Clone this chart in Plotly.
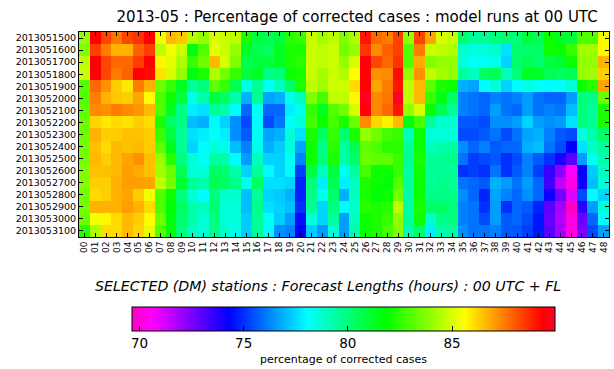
import plotly.graph_objects as go

title_text = "2013-05 : Percentage of corrected cases : model runs at 00 UTC"
xlabel_text = "SELECTED (DM) stations : Forecast Lengths (hours) : 00 UTC + FL"
cbar_label = "percentage of corrected cases"

forecast_lengths = [f"{h:02d}" for h in range(49)]
run_dates = [f"201305{d:02d}00" for d in range(15, 32)]
cbar_ticks = [70, 75, 80, 85]

pct = [
    [84.0, 89.3, 88.3, 87.6, 88.3, 88.6, 89.3, 85.4, 86.6, 86.4, 84.5, 84.0,
     85.0, 84.8, 84.6, 82.2, 80.9, 80.6, 80.9, 82.4, 82.6, 84.8, 84.2, 84.6,
     83.7, 84.4, 89.0, 87.8, 87.5, 88.4, 84.0, 88.3, 86.9, 85.0, 84.8, 80.2,
     79.5, 79.6, 80.0, 80.2, 80.0, 80.9, 80.6, 82.0, 81.3, 80.9, 83.0, 83.0, 85.4],
    [83.7, 88.4, 87.5, 86.7, 86.7, 87.9, 88.4, 84.6, 85.4, 84.8, 81.6, 83.0,
     85.2, 84.8, 84.0, 81.3, 80.6, 80.4, 81.3, 82.2, 82.2, 84.8, 84.6, 84.8,
     83.5, 84.0, 88.6, 87.3, 87.9, 88.4, 83.0, 87.5, 84.8, 84.6, 84.4, 78.8,
     78.6, 78.6, 78.8, 77.6, 80.2, 80.2, 80.4, 82.0, 82.0, 82.6, 84.2, 84.2, 85.7],
    [84.6, 89.4, 88.3, 87.8, 87.8, 88.4, 89.3, 85.7, 85.2, 84.4, 82.6, 83.4,
     86.6, 85.0, 83.7, 80.6, 80.9, 80.9, 81.3, 82.2, 82.4, 84.8, 84.6, 84.8,
     84.0, 85.0, 89.5, 88.3, 87.8, 88.6, 83.0, 86.8, 83.7, 84.0, 84.0, 78.6,
     78.2, 78.2, 78.4, 77.4, 80.2, 80.6, 80.2, 80.9, 81.1, 82.0, 84.0, 84.0, 86.7],
    [84.8, 89.5, 88.3, 87.5, 87.9, 89.4, 89.2, 86.0, 85.0, 84.0, 81.6, 82.2,
     84.4, 83.5, 82.6, 80.9, 81.3, 79.8, 80.0, 82.0, 82.2, 84.8, 84.2, 84.8,
     84.4, 85.6, 89.4, 87.2, 87.3, 89.2, 84.0, 87.2, 84.6, 84.2, 84.0, 79.6,
     79.0, 80.4, 80.6, 79.0, 80.0, 81.3, 81.3, 80.6, 80.4, 80.6, 84.0, 84.2, 86.3],
    [83.0, 87.8, 87.2, 86.3, 85.9, 87.5, 86.7, 83.4, 82.6, 81.3, 79.6, 80.0,
     83.2, 82.6, 80.6, 78.4, 79.6, 78.2, 79.0, 80.4, 82.2, 84.6, 84.2, 84.8,
     84.8, 86.1, 89.3, 86.9, 87.5, 89.0, 84.6, 86.6, 83.2, 82.2, 82.0, 76.9,
     76.7, 78.0, 78.6, 77.4, 78.0, 78.4, 78.2, 78.0, 78.2, 78.6, 82.0, 82.4, 86.9],
    [83.0, 87.5, 86.7, 86.4, 86.3, 86.9, 85.6, 83.0, 82.0, 80.9, 78.4, 79.3,
     80.9, 80.4, 79.3, 76.9, 79.6, 76.7, 76.9, 78.4, 79.0, 83.7, 82.8, 84.6,
     84.6, 85.7, 89.8, 87.3, 87.6, 89.9, 84.6, 86.6, 82.6, 81.5, 80.4, 76.2,
     76.0, 75.8, 76.2, 76.0, 76.2, 76.6, 76.0, 75.8, 75.8, 76.6, 80.0, 79.8, 83.4],
    [83.2, 87.3, 87.2, 87.5, 87.3, 87.1, 86.6, 83.0, 81.3, 79.8, 77.8, 77.6,
     79.6, 79.3, 78.0, 75.8, 78.2, 75.8, 75.8, 77.8, 78.4, 82.6, 81.3, 83.0,
     83.5, 85.0, 89.5, 87.3, 87.8, 89.0, 84.0, 85.0, 82.0, 80.6, 79.6, 76.2,
     76.0, 75.8, 76.6, 76.0, 75.8, 76.6, 76.0, 76.2, 76.0, 77.1, 80.0, 79.6, 82.2],
    [83.4, 86.2, 85.9, 86.1, 86.0, 86.3, 86.1, 82.2, 80.4, 79.8, 77.1, 76.9,
     78.0, 77.4, 76.4, 75.4, 78.0, 75.4, 76.0, 78.2, 78.6, 82.8, 82.0, 82.8,
     82.2, 83.4, 87.3, 86.2, 85.8, 86.6, 81.6, 82.8, 79.6, 78.8, 78.8, 75.6,
     75.6, 75.4, 76.4, 76.4, 76.6, 77.4, 76.6, 76.4, 76.6, 77.6, 80.0, 79.6, 82.2],
    [83.4, 86.7, 86.3, 86.3, 86.5, 86.5, 86.3, 82.6, 80.9, 79.6, 77.6, 77.8,
     78.2, 77.8, 76.4, 75.6, 78.2, 76.7, 76.9, 78.6, 77.6, 82.2, 80.4, 82.6,
     80.2, 82.2, 84.0, 83.4, 82.8, 82.6, 79.0, 82.0, 78.6, 78.6, 78.6, 75.4,
     75.4, 75.6, 76.0, 75.4, 76.0, 76.7, 76.9, 76.2, 75.6, 75.4, 78.6, 79.3, 80.4],
    [83.5, 86.5, 86.1, 86.6, 86.5, 86.6, 86.3, 83.2, 81.5, 79.6, 77.4, 78.0,
     78.6, 78.4, 77.1, 76.2, 78.4, 76.9, 77.3, 78.6, 76.7, 82.0, 79.8, 82.4,
     79.5, 80.6, 83.2, 83.0, 82.4, 82.4, 79.5, 82.0, 79.0, 79.3, 79.5, 76.4,
     75.8, 76.2, 75.6, 75.8, 75.8, 76.9, 77.1, 76.0, 75.4, 74.3, 77.6, 79.0, 79.5],
    [83.5, 86.6, 86.3, 86.6, 86.9, 87.2, 86.5, 84.0, 82.4, 80.0, 78.6, 78.2,
     79.5, 79.3, 78.0, 76.6, 79.0, 77.4, 77.4, 78.2, 76.2, 82.0, 80.0, 82.2,
     79.3, 80.2, 83.4, 83.2, 83.2, 82.6, 79.6, 82.2, 79.6, 79.6, 79.8, 76.0,
     75.2, 75.4, 75.6, 75.0, 75.4, 76.2, 75.6, 75.0, 73.9, 73.0, 76.6, 78.2, 79.3],
    [83.7, 86.5, 86.5, 86.6, 87.0, 86.8, 86.5, 84.2, 83.4, 80.6, 78.6, 78.6,
     80.4, 80.2, 79.3, 77.4, 79.6, 78.0, 77.4, 78.0, 75.2, 80.9, 79.0, 80.9,
     78.2, 79.5, 82.8, 82.0, 82.0, 82.6, 79.3, 82.0, 79.6, 79.6, 79.6, 75.0,
     75.2, 75.0, 76.0, 75.0, 75.6, 76.2, 75.2, 73.5, 72.3, 70.6, 74.3, 77.3, 79.0],
    [83.7, 86.3, 86.3, 86.7, 87.0, 87.0, 86.9, 84.6, 83.5, 81.1, 79.6, 79.3,
     80.6, 80.4, 79.8, 78.4, 80.4, 77.6, 77.6, 77.4, 74.8, 80.0, 77.8, 80.6,
     77.8, 79.0, 82.2, 82.0, 81.7, 83.0, 79.5, 82.0, 79.6, 79.8, 79.6, 76.0,
     75.8, 75.6, 76.9, 76.6, 76.0, 76.6, 75.8, 73.4, 71.5, 70.2, 74.1, 77.1, 78.6],
    [83.5, 86.1, 86.3, 86.7, 86.9, 86.3, 85.4, 83.0, 82.0, 80.0, 78.6, 78.0,
     80.0, 78.8, 78.8, 77.1, 79.6, 77.4, 77.3, 76.9, 74.8, 79.8, 78.4, 80.2,
     76.9, 79.0, 82.2, 81.7, 82.0, 83.5, 79.3, 82.0, 79.8, 79.8, 79.8, 76.4,
     75.8, 74.8, 76.7, 76.2, 75.8, 76.4, 75.8, 74.1, 72.6, 71.0, 75.4, 78.0, 77.4],
    [83.5, 86.7, 86.7, 86.7, 87.0, 86.7, 86.1, 83.0, 81.7, 80.4, 79.3, 79.0,
     80.2, 78.6, 78.6, 77.1, 79.8, 77.6, 77.4, 77.1, 75.0, 79.6, 77.4, 80.0,
     78.0, 78.8, 82.4, 82.2, 82.4, 84.6, 79.3, 82.2, 80.2, 80.4, 80.0, 76.2,
     76.0, 75.0, 76.6, 75.0, 75.8, 75.6, 74.8, 73.0, 71.9, 69.7, 73.7, 76.6, 78.6],
    [83.4, 85.4, 85.7, 86.1, 86.6, 86.3, 85.6, 83.4, 81.6, 80.2, 79.3, 78.6,
     80.0, 78.6, 78.6, 77.3, 79.6, 78.2, 77.3, 76.6, 74.5, 78.6, 77.4, 79.5,
     76.6, 79.0, 82.0, 82.2, 82.6, 84.0, 79.5, 82.0, 78.8, 79.8, 80.0, 76.2,
     76.0, 75.4, 76.6, 75.6, 75.8, 75.4, 74.6, 72.8, 71.7, 70.2, 72.8, 75.8, 78.0],
    [82.4, 84.4, 86.1, 86.1, 86.6, 86.2, 85.2, 83.0, 81.6, 80.0, 79.0, 78.6,
     79.8, 78.8, 78.4, 77.3, 79.6, 78.0, 76.4, 76.2, 74.3, 77.3, 76.6, 78.6,
     76.6, 79.3, 82.0, 82.2, 82.8, 83.8, 79.3, 80.2, 77.8, 79.3, 79.5, 76.4,
     76.0, 76.0, 76.2, 75.6, 75.6, 75.2, 74.6, 73.0, 71.9, 70.1, 72.5, 75.4, 76.7],
]

# matplotlib gist_rainbow_r
gist_rainbow_r = [
    [0.000, "rgb(255,0,191)"],
    [0.046, "rgb(255,0,255)"],
    [0.230, "rgb(0,0,255)"],
    [0.414, "rgb(0,255,255)"],
    [0.600, "rgb(0,255,0)"],
    [0.785, "rgb(255,255,0)"],
    [0.970, "rgb(255,0,0)"],
    [1.000, "rgb(255,0,41)"],
]

FONT = "DejaVu Sans"

fig = go.Figure(go.Heatmap(
    z=pct, x=forecast_lengths, y=run_dates,
    colorscale=gist_rainbow_r, zmin=69.64, zmax=89.94,
    xgap=0, ygap=0,
    colorbar=dict(
        orientation="h", x=0.499, xanchor="center", y=-(307 - 237) / 205, yanchor="top",
        len=0.798, lenmode="fraction", thickness=24, xpad=0, ypad=0,
        outlinecolor="black", outlinewidth=1,
        tickvals=cbar_ticks, ticks="inside", ticklen=5, tickcolor="black",
        tickfont=dict(family=FONT, size=13.5, color="black"),
        title=dict(text=cbar_label, side="bottom",
                   font=dict(family=FONT, size=11, color="black")),
    ),
))

fig.update_layout(
    width=614, height=369,
    margin=dict(l=79, r=5, t=32, b=132, autoexpand=False),
    paper_bgcolor="white", plot_bgcolor="white",
    title=dict(text=title_text, x=357/614, xanchor="center", xref="container",
               y=1-17/369, yref="container", yanchor="middle",
               font=dict(family=FONT, size=15, color="black")),
    font=dict(family=FONT, color="black"),
    xaxis=dict(type="category", tickangle=-90, ticks="inside", ticklen=4,
               tickmode="linear", dtick=1, automargin=False,
               tickcolor="black", showline=True, linecolor="black", linewidth=1,
               mirror="ticks", tickfont=dict(family=FONT, size=9, color="black"),
               showgrid=False, zeroline=False),
    yaxis=dict(type="category", autorange="reversed", ticks="inside", ticklen=4,
               tickmode="linear", dtick=1, automargin=False,
               tickcolor="black", showline=True, linecolor="black", linewidth=1,
               mirror="ticks", tickfont=dict(family=FONT, size=9.5, color="black"),
               showgrid=False, zeroline=False),
    annotations=[dict(text=xlabel_text, xref="paper", yref="paper",
                      x=(328-79)/530, y=(237-286)/205, xanchor="center", yanchor="middle",
                      showarrow=False,
                      font=dict(family=FONT, size=14.2, color="black", style="italic"))],
)

fig.write_html("out.html", config={"displayModeBar": False},
               post_script="document.body.style.margin='0';document.body.style.overflow='hidden';")
